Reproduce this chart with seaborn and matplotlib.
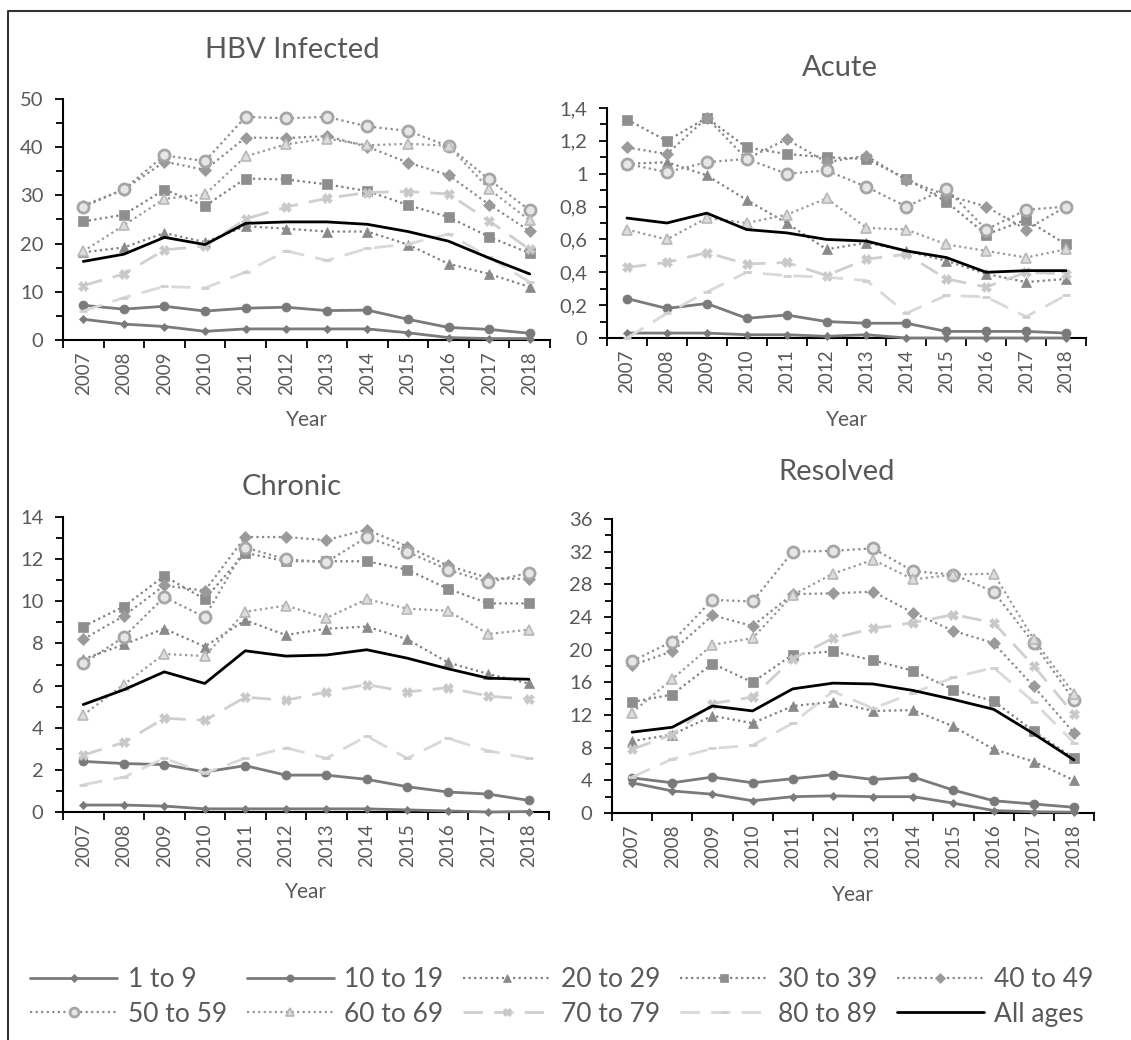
import matplotlib
matplotlib.use("Agg")
import matplotlib.pyplot as plt
from matplotlib.lines import Line2D
from matplotlib.ticker import MultipleLocator, FuncFormatter, FixedLocator
import seaborn as sns
import pandas as pd

# ---------------- data ----------------
years = [2007, 2008, 2009, 2010, 2011, 2012, 2013, 2014, 2015, 2016, 2017, 2018]
ages = ["1 to 9", "10 to 19", "20 to 29", "30 to 39", "40 to 49",
        "50 to 59", "60 to 69", "70 to 79", "80 to 89", "All ages"]

infected = {
    "1 to 9":   [4.3, 3.3, 2.8, 1.8, 2.3, 2.3, 2.3, 2.3, 1.5, 0.5, 0.3, 0.3],
    "10 to 19": [7.2, 6.4, 7.0, 6.0, 6.6, 6.8, 6.1, 6.2, 4.3, 2.6, 2.2, 1.4],
    "20 to 29": [18.2, 19.2, 22.2, 20.3, 23.6, 23.1, 22.5, 22.5, 19.8, 15.8, 13.7, 11.0],
    "30 to 39": [24.6, 26.0, 31.2, 27.8, 33.5, 33.3, 32.3, 30.9, 28.0, 25.5, 21.4, 18.0],
    "40 to 49": [27.9, 31.2, 37.0, 35.3, 42.0, 41.9, 42.3, 40.1, 36.8, 34.2, 28.1, 22.6],
    "50 to 59": [27.6, 31.3, 38.3, 37.1, 46.3, 46.0, 46.3, 44.3, 43.4, 40.2, 33.3, 26.9],
    "60 to 69": [18.4, 23.8, 29.3, 30.2, 38.1, 40.6, 41.8, 40.4, 40.7, 40.3, 31.3, 24.8],
    "70 to 79": [11.3, 13.7, 18.7, 19.5, 25.1, 27.6, 29.4, 30.6, 30.8, 30.3, 24.7, 18.8],
    "80 to 89": [6.0, 8.8, 11.1, 10.8, 14.1, 18.5, 16.5, 19.0, 19.9, 22.0, 17.2, 12.0],
    "All ages": [16.3, 17.8, 21.3, 19.8, 24.2, 24.5, 24.5, 24.0, 22.5, 20.5, 17.0, 13.7],
}

acute = {
    "1 to 9":   [0.03, 0.03, 0.03, 0.02, 0.02, 0.01, 0.02, 0.0, 0.0, 0.0, 0.0, 0.0],
    "10 to 19": [0.24, 0.18, 0.21, 0.12, 0.14, 0.10, 0.09, 0.09, 0.04, 0.04, 0.04, 0.03],
    "20 to 29": [1.06, 1.07, 0.99, 0.84, 0.70, 0.54, 0.58, 0.53, 0.47, 0.39, 0.34, 0.36],
    "30 to 39": [1.33, 1.20, 1.34, 1.16, 1.12, 1.10, 1.09, 0.97, 0.83, 0.63, 0.72, 0.57],
    "40 to 49": [1.16, 1.12, 1.34, 1.09, 1.21, 1.07, 1.11, 0.96, 0.87, 0.80, 0.66, 0.80],
    "50 to 59": [1.06, 1.01, 1.07, 1.09, 1.00, 1.02, 0.92, 0.80, 0.91, 0.66, 0.78, 0.80],
    "60 to 69": [0.66, 0.60, 0.73, 0.70, 0.75, 0.85, 0.67, 0.66, 0.57, 0.53, 0.49, 0.54],
    "70 to 79": [0.43, 0.46, 0.52, 0.45, 0.46, 0.38, 0.48, 0.51, 0.36, 0.31, 0.40, 0.39],
    "80 to 89": [0.0, 0.15, 0.28, 0.40, 0.38, 0.37, 0.35, 0.15, 0.26, 0.25, 0.13, 0.26],
    "All ages": [0.73, 0.70, 0.76, 0.66, 0.64, 0.60, 0.59, 0.53, 0.49, 0.40, 0.41, 0.41],
}

chronic = {
    "1 to 9":   [0.33, 0.33, 0.28, 0.15, 0.15, 0.15, 0.15, 0.15, 0.10, 0.05, 0.0, 0.02],
    "10 to 19": [2.4, 2.3, 2.25, 1.9, 2.2, 1.75, 1.75, 1.55, 1.2, 0.95, 0.85, 0.55],
    "20 to 29": [7.25, 7.95, 8.7, 7.85, 9.1, 8.4, 8.7, 8.8, 8.2, 7.1, 6.55, 6.1],
    "30 to 39": [8.8, 9.75, 11.2, 10.1, 12.3, 11.9, 11.9, 11.9, 11.5, 10.6, 9.9, 9.9],
    "40 to 49": [8.2, 9.3, 10.75, 10.5, 13.05, 13.05, 12.9, 13.4, 12.6, 11.7, 11.1, 11.05],
    "50 to 59": [7.05, 8.3, 10.2, 9.25, 12.55, 12.0, 11.85, 13.05, 12.35, 11.5, 10.9, 11.35],
    "60 to 69": [4.6, 6.05, 7.5, 7.4, 9.5, 9.8, 9.2, 10.1, 9.65, 9.55, 8.45, 8.65],
    "70 to 79": [2.7, 3.3, 4.45, 4.35, 5.45, 5.3, 5.7, 6.05, 5.7, 5.9, 5.5, 5.35],
    "80 to 89": [1.3, 1.65, 2.55, 1.85, 2.55, 3.05, 2.55, 3.6, 2.55, 3.5, 2.9, 2.55],
    "All ages": [5.1, 5.8, 6.65, 6.1, 7.65, 7.4, 7.45, 7.7, 7.3, 6.8, 6.35, 6.3],
}

resolved = {
    "1 to 9":   [3.7, 2.7, 2.3, 1.5, 2.0, 2.1, 2.0, 2.0, 1.2, 0.3, 0.15, 0.1],
    "10 to 19": [4.3, 3.7, 4.4, 3.7, 4.2, 4.7, 4.1, 4.4, 2.8, 1.5, 1.1, 0.7],
    "20 to 29": [8.8, 9.6, 11.9, 11.0, 13.1, 13.6, 12.5, 12.6, 10.6, 7.8, 6.3, 4.0],
    "30 to 39": [13.6, 14.5, 18.3, 16.0, 19.4, 19.8, 18.7, 17.4, 15.1, 13.7, 10.0, 6.7],
    "40 to 49": [18.1, 19.8, 24.2, 22.9, 26.8, 26.9, 27.1, 24.5, 22.3, 20.8, 15.5, 9.8],
    "50 to 59": [18.6, 21.0, 26.1, 25.9, 32.0, 32.1, 32.4, 29.6, 29.2, 27.1, 20.8, 13.8],
    "60 to 69": [12.3, 16.4, 20.6, 21.4, 26.7, 29.3, 31.0, 28.6, 29.2, 29.3, 21.3, 14.6],
    "70 to 79": [7.8, 9.6, 13.4, 14.2, 18.9, 21.4, 22.6, 23.3, 24.3, 23.3, 18.0, 12.1],
    "80 to 89": [4.4, 6.6, 7.9, 8.3, 11.0, 14.9, 12.8, 14.7, 16.6, 17.8, 13.6, 8.6],
    "All ages": [9.9, 10.5, 13.1, 12.5, 15.2, 15.9, 15.8, 15.0, 13.9, 12.7, 9.7, 6.5],
}

titles = ["HBV Infected", "Acute", "Chronic", "Resolved"]
panels = [infected, acute, chronic, resolved]

# ---------------- styles ----------------
styles = {
    "1 to 9":   dict(color="#7a7a7a", lw=2.0, ls="-", marker="D", ms=4.5, mfc="#7a7a7a", mec="#7a7a7a", mew=0.5),
    "10 to 19": dict(color="#7a7a7a", lw=2.0, ls="-", marker="o", ms=6.5, mfc="#7a7a7a", mec="#7a7a7a", mew=0.5),
    "20 to 29": dict(color="#808080", lw=1.6, ls=(0, (1, 1.5)), marker="^", ms=7, mfc="#8a8a8a", mec="#8a8a8a", mew=0.5),
    "30 to 39": dict(color="#808080", lw=1.6, ls=(0, (1, 1.5)), marker="s", ms=6.5, mfc="#8e8e8e", mec="#8e8e8e", mew=0.5),
    "40 to 49": dict(color="#8a8a8a", lw=1.6, ls=(0, (1, 1.5)), marker="D", ms=6.5, mfc="#9a9a9a", mec="#9a9a9a", mew=0.5),
    "50 to 59": dict(color="#8e8e8e", lw=1.6, ls=(0, (1, 1.5)), marker="o", ms=8, mfc="#e6e6e6", mec="#a6a6a6", mew=2.0),
    "60 to 69": dict(color="#999999", lw=1.6, ls=(0, (1, 1.5)), marker="^", ms=7.5, mfc="#dcdcdc", mec="#b8b8b8", mew=1.2),
    "70 to 79": dict(color="#cfcfcf", lw=2.0, ls=(0, (7, 4)), marker="X", ms=7, mfc="#c8c8c8", mec="#c8c8c8", mew=0.5),
    "80 to 89": dict(color="#d9d9d9", lw=2.0, ls=(0, (7, 4)), marker="_", ms=6, mfc="#cfcfcf", mec="#cfcfcf", mew=2.0),
    "All ages": dict(color="#000000", lw=2.0, ls="-", marker=None, ms=0, mfc="#000000", mec="#000000", mew=0),
}

# ---------------- layout ----------------
W, H = 1131, 1040
# (left, right, top, bottom) in pixels
boxes = [(63, 550, 99, 340), (607, 1086, 108, 338), (63, 549, 517, 812), (612, 1094, 519, 813)]
ymax = [50, 1.4, 14, 36]
ymaj = [10, 0.2, 2, 4]
title_pos = [(292, 50), (840, 68), (292, 487), (837, 472)]
year_label_y = [420, 420, 892, 895]

sns.set_theme(style="ticks")
FONT = ["Lato", "DejaVu Sans"]
plt.rcParams["font.family"] = FONT
TXT = "#595959"

fig = plt.figure(figsize=(W / 100, H / 100), dpi=100)

def fmt(v, _):
    s = "%g" % round(v, 6)
    return s.replace(".", ",")

for i, (data, title) in enumerate(zip(panels, titles)):
    l, r, t, b = boxes[i]
    ax = fig.add_axes([l / W, 1 - b / H, (r - l) / W, (b - t) / H])
    for age in ages:
        st = styles[age]
        df = pd.DataFrame({"Year": years, "Value": data[age]})
        sns.lineplot(data=df, x="Year", y="Value", ax=ax, errorbar=None,
                     color=st["color"], linewidth=st["lw"], linestyle=st["ls"],
                     marker=st["marker"], markersize=st["ms"],
                     markerfacecolor=st["mfc"], markeredgecolor=st["mec"],
                     markeredgewidth=st["mew"], label=age, legend=False,
                     clip_on=False, zorder=3 if age != "All ages" else 4)
    ax.set_xlim(years[0] - 0.5, years[-1] + 0.5)
    ax.set_ylim(0, ymax[i])
    ax.set_xticks(years)
    ax.set_xticklabels([str(y) for y in years], rotation=90)
    ax.xaxis.set_minor_locator(FixedLocator([y - 0.5 for y in years] + [years[-1] + 0.5]))
    ax.tick_params(axis="x", which="major", length=0, pad=8, labelsize=13.5, labelcolor=TXT)
    ax.tick_params(axis="x", which="minor", length=6, width=1.3, direction="out", color="black")
    ax.yaxis.set_major_locator(MultipleLocator(ymaj[i]))
    ax.yaxis.set_minor_locator(MultipleLocator(ymaj[i] / 2))
    ax.yaxis.set_major_formatter(FuncFormatter(fmt))
    ax.tick_params(axis="y", which="major", length=6, width=1.3, direction="out",
                   color="black", labelsize=14.5, labelcolor=TXT, pad=8)
    ax.tick_params(axis="y", which="minor", length=5, width=1.3, direction="out", color="black")
    sns.despine(ax=ax)
    for sp in ("left", "bottom"):
        ax.spines[sp].set_color("black")
        ax.spines[sp].set_linewidth(1.5)
    ax.set_ylabel("")
    ax.set_xlabel("Year", fontsize=15, color=TXT)
    ax.xaxis.set_label_coords(0.5, (b - year_label_y[i]) / (b - t))
    ax.xaxis.label.set_va("center")
    ax.grid(False)
    tx, ty = title_pos[i]
    fig.text(tx / W, 1 - ty / H, title, ha="center", va="center", fontsize=21, color=TXT)

# legend (row-major order)
handles = []
for age in ages:
    st = styles[age]
    handles.append(Line2D([], [], color=st["color"], lw=st["lw"], ls=st["ls"],
                          marker=st["marker"], ms=st["ms"] * 0.8, mfc=st["mfc"],
                          mec=st["mec"], mew=st["mew"]))
order = [0, 5, 1, 6, 2, 7, 3, 8, 4, 9]
leg = fig.legend([handles[k] for k in order], [ages[k] for k in order],
                 loc="center", bbox_to_anchor=(562 / W, 1 - 997 / H), ncol=5,
                 frameon=False, fontsize=19, handlelength=3.3, handletextpad=0.4,
                 columnspacing=0.75, labelspacing=0.35, markerfirst=True)
for txt in leg.get_texts():
    txt.set_color(TXT)

# outer frame
fig.add_artist(Line2D([8 / W, 8 / W, 1.0], [0.0, 1 - 11 / H, 1 - 11 / H],
                      transform=fig.transFigure, color="#333333", lw=1.5))

fig.savefig("out.png", dpi=100, facecolor="white")
